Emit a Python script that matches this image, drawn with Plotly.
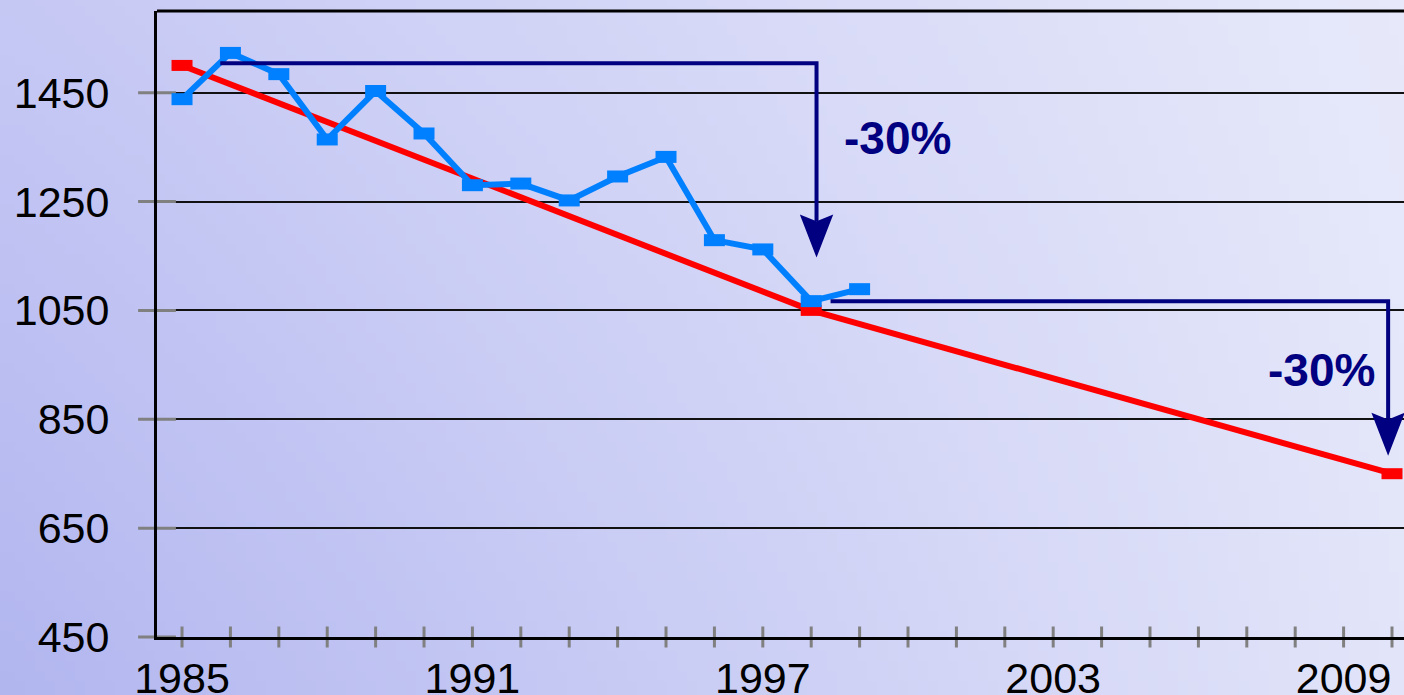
import base64
import struct
import zlib
import plotly.graph_objects as go

# ---------------- data ----------------
years_actual = list(range(1985, 2000))
actual = [1438, 1523, 1484, 1364, 1453, 1375, 1280, 1283, 1252, 1296, 1332, 1179, 1162, 1067, 1089]

target_years = [1985, 1998, 2010]
target = [1500, 1050, 750]

tick_years = list(range(1985, 2011))
xlabel_years = [1985, 1991, 1997, 2003, 2009]
y_ticks = [450, 650, 850, 1050, 1250, 1450]

# reduction arrows: start x, level y, corner x, tip y
arrow_start_x = [1985.79, 1998.40]
arrow_level_y = [1504, 1067]
arrow_corner_x = [1998.11, 2009.92]
arrow_tip_y = [1147, 783]
arrow_text = ["-30%", "-30%"]
arrow_text_x = [1999.79, 2008.54]
arrow_text_y = [1366, 940]

# ---------------- layout constants ----------------
W, H = 1404, 695
ML, MT, MB, MR = 157, 11, 58, 0
XR = [1984.483, 2010.248]
YR = [450, 1600]
PW, PH = W - ML - MR, H - MT - MB
PX_X = PW / (XR[1] - XR[0])
PX_Y = PH / (YR[1] - YR[0])

NAVY = "#000080"
BLUE = "#0080FF"
RED = "#FF0000"
GREY = "#808080"
FONT = "Liberation Sans, Arial, sans-serif"


def gradient_png(w, h):
    TL, TR = (198, 200, 244), (231, 233, 250)
    BL, BR = (178, 182, 239), (226, 228, 249)
    rows = []
    for j in range(h):
        v = j / (h - 1)
        row = bytearray([0])
        for i in range(w):
            u = i / (w - 1)
            for k in range(3):
                c = (TL[k] * (1 - u) + TR[k] * u) * (1 - v) + (BL[k] * (1 - u) + BR[k] * u) * v
                row.append(int(round(c)))
        rows.append(bytes(row))
    raw = b"".join(rows)

    def chunk(t, d):
        return struct.pack(">I", len(d)) + t + d + struct.pack(">I", zlib.crc32(t + d) & 0xFFFFFFFF)

    png = (b"\x89PNG\r\n\x1a\n"
           + chunk(b"IHDR", struct.pack(">IIBBBBB", w, h, 8, 2, 0, 0, 0))
           + chunk(b"IDAT", zlib.compress(raw))
           + chunk(b"IEND", b""))
    return "data:image/png;base64," + base64.b64encode(png).decode()


fig = go.Figure()

# x tick marks crossing the axis
fig.add_trace(go.Scatter(
    x=tick_years, y=[YR[0]] * len(tick_years), mode="markers", cliponaxis=False,
    marker=dict(symbol="line-ns", size=15, color=GREY, line=dict(color=GREY, width=3)),
    hoverinfo="skip", showlegend=False))
# y tick marks crossing the axis
fig.add_trace(go.Scatter(
    x=[XR[0]] * len(y_ticks), y=y_ticks, mode="markers", cliponaxis=False,
    marker=dict(symbol="line-ew", size=27, color=GREY, line=dict(color=GREY, width=3)),
    hoverinfo="skip", showlegend=False))

# target line
fig.add_trace(go.Scatter(
    x=target_years, y=target, mode="lines+markers", cliponaxis=False,
    line=dict(color=RED, width=6),
    marker=dict(symbol="line-ew", size=15, color=RED, line=dict(color=RED, width=11)),
    showlegend=False))
# actual line
fig.add_trace(go.Scatter(
    x=years_actual, y=actual, mode="lines+markers", cliponaxis=False,
    line=dict(color=BLUE, width=6),
    marker=dict(symbol="line-ew", size=15, color=BLUE, line=dict(color=BLUE, width=12)),
    showlegend=False))

shapes = []
annotations = []
head_h = 43 / PX_Y
head_hw = 16.7 / PX_X
notch = 6.7 / PX_Y
for xs, yl, xc, yt, txt, tx, ty in zip(arrow_start_x, arrow_level_y, arrow_corner_x,
                                        arrow_tip_y, arrow_text, arrow_text_x, arrow_text_y):
    ytop = yt + head_h
    shapes.append(dict(type="path", xref="x", yref="y", layer="above",
                       path=f"M{xs},{yl} L{xc},{yl} L{xc},{ytop - notch}",
                       line=dict(color=NAVY, width=4)))
    shapes.append(dict(type="path", xref="x", yref="y", layer="above",
                       path=(f"M{xc - head_hw},{ytop} L{xc},{ytop - notch} "
                             f"L{xc + head_hw},{ytop} L{xc},{yt} Z"),
                       fillcolor=NAVY, line=dict(width=0)))
    annotations.append(dict(x=tx, y=ty, xref="x", yref="y", text=txt, showarrow=False,
                            font=dict(family=FONT, size=46, color=NAVY, weight="bold"),
                            xanchor="center", yanchor="middle"))

# top border
shapes.append(dict(type="line", xref="paper", yref="paper", x0=0, x1=1, y0=1, y1=1,
                   line=dict(color="black", width=3), layer="above"))

fig.update_layout(
    width=W, height=H,
    margin=dict(l=ML, r=MR, t=MT, b=MB, pad=0, autoexpand=False),
    paper_bgcolor="#CDCFF5",
    plot_bgcolor="rgba(0,0,0,0)",
    shapes=shapes,
    annotations=annotations,
    images=[dict(source=gradient_png(140, 70), xref="paper", yref="paper",
                 x=-ML / PW, y=1 + MT / PH, sizex=W / PW, sizey=H / PH,
                 xanchor="left", yanchor="top", sizing="stretch", layer="below")],
    xaxis=dict(range=XR, tickvals=xlabel_years, ticktext=[str(y) for y in xlabel_years],
               ticks="", ticklabelstandoff=1, automargin=False,
               showline=True, linecolor="black", linewidth=3, showgrid=False, zeroline=False,
               tickfont=dict(family=FONT, size=43, color="black")),
    yaxis=dict(range=YR, tickvals=y_ticks, ticktext=[str(v) for v in y_ticks],
               ticks="outside", ticklen=18, tickcolor="rgba(0,0,0,0)",
               ticklabelstandoff=18, automargin=False,
               showline=True, linecolor="black", linewidth=3,
               showgrid=True, gridcolor="#111111", gridwidth=1.5, zeroline=False,
               tickfont=dict(family=FONT, size=43, color="black")),
)

fig.write_html("out.html", config={"displayModeBar": False},
               post_script="document.body.style.margin='0';document.body.style.overflow='hidden';")
